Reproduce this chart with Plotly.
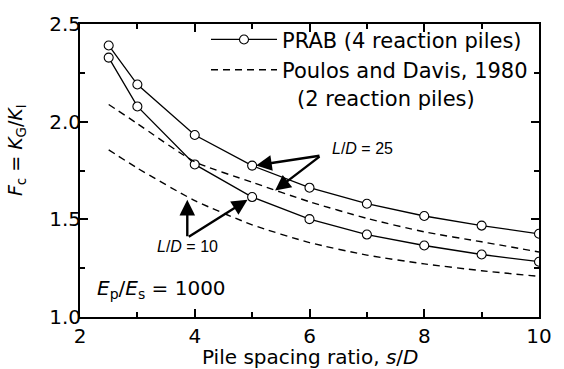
import plotly.graph_objects as go

# ---- data ----
s_prab = [2.5, 3, 4, 5, 6, 7, 8, 9, 10]
prab_ld25 = [2.39, 2.19, 1.932, 1.775, 1.662, 1.580, 1.517, 1.468, 1.426]
prab_ld10 = [2.328, 2.078, 1.781, 1.614, 1.501, 1.422, 1.366, 1.320, 1.283]

s_pd = [2.5, 3, 4, 5, 6, 7, 8, 9, 10]
pd_ld25 = [2.088, 1.99, 1.795, 1.69, 1.59, 1.505, 1.436, 1.385, 1.333]
pd_ld10 = [1.856, 1.762, 1.596, 1.472, 1.381, 1.317, 1.272, 1.237, 1.208]

x_ticks = [2, 4, 6, 8, 10]
y_ticks = [1.0, 1.5, 2.0, 2.5]
y_tick_text = ["1.0", "1.5", "2.0", "2.5"]

FONT = "DejaVu Sans"
BLACK = "#000000"

fig = go.Figure()

marker = dict(symbol="circle", size=9, color="white", line=dict(color=BLACK, width=1.1))

fig.add_trace(go.Scatter(x=s_prab, y=prab_ld25, mode="lines+markers",
                         line=dict(color=BLACK, width=1.3), marker=marker,
                         name="PRAB (4 reaction piles)", showlegend=True))
fig.add_trace(go.Scatter(x=s_prab, y=prab_ld10, mode="lines+markers",
                         line=dict(color=BLACK, width=1.3), marker=marker,
                         showlegend=False))
fig.add_trace(go.Scatter(x=s_pd, y=pd_ld25, mode="lines",
                         line=dict(color=BLACK, width=1.4, dash="7px,5px", shape="spline", smoothing=0.6),
                         name="Poulos and Davis, 1980", showlegend=True))
fig.add_trace(go.Scatter(x=s_pd, y=pd_ld10, mode="lines",
                         line=dict(color=BLACK, width=1.4, dash="7px,5px", shape="spline", smoothing=0.6),
                         showlegend=False))

arrow_common = dict(xref="x", yref="y", axref="x", ayref="y", text="",
                    showarrow=True, arrowhead=2, arrowsize=1.3, arrowwidth=2.4,
                    arrowcolor=BLACK)
annotations = [
    dict(x=5.07, y=1.776, ax=6.2, ay=1.827, **arrow_common),
    dict(x=5.40, y=1.647, ax=6.2, ay=1.827, **arrow_common),
    dict(x=3.87, y=1.60, ax=3.87, ay=1.406, **arrow_common),
    dict(x=4.92, y=1.60, ax=3.87, ay=1.406, **arrow_common),
    dict(x=6.36, y=1.865, xref="x", yref="y", text="<i>L</i>/<i>D</i> = 25",
         showarrow=False, xanchor="left", yanchor="middle",
         font=dict(family="Liberation Sans", size=16, color=BLACK)),
    dict(x=3.87, y=1.36, xref="x", yref="y", text="<i>L</i>/<i>D</i> = 10",
         showarrow=False, xanchor="center", yanchor="middle",
         font=dict(family="Liberation Sans", size=16, color=BLACK)),
    dict(x=2.27, y=1.145, xref="x", yref="y",
         text="<i>E</i><sub>p</sub>/<i>E</i><sub>s</sub> = 1000",
         showarrow=False, xanchor="left", yanchor="middle",
         font=dict(family=FONT, size=20, color=BLACK)),
    dict(x=0.468, y=0.745, xref="paper", yref="paper",
         text="(2 reaction piles)",
         showarrow=False, xanchor="left", yanchor="middle",
         font=dict(family=FONT, size=21, color=BLACK)),
    dict(x=-0.137, y=0.57, xref="paper", yref="paper", textangle=-90,
         text="<i>F</i><sub>c</sub> = <i>K</i><sub>G</sub>/<i>K</i><sub>I</sub>",
         showarrow=False, xanchor="center", yanchor="middle",
         font=dict(family=FONT, size=19, color=BLACK)),
    dict(x=0.5, y=-0.136, xref="paper", yref="paper",
         text="Pile spacing ratio, <i>s</i>/<i>D</i>",
         showarrow=False, xanchor="center", yanchor="middle",
         font=dict(family=FONT, size=20, color=BLACK)),
]

axis_common = dict(showline=True, linecolor=BLACK, linewidth=2, mirror="ticks",
                   ticks="inside", ticklen=8, tickwidth=1.5, tickcolor=BLACK,
                   showgrid=False, zeroline=False,
                   tickfont=dict(family=FONT, size=20, color=BLACK))

fig.update_xaxes(range=[2, 10], tickmode="array", tickvals=x_ticks,
                 minor=dict(ticks="inside", ticklen=5, tickwidth=1.5, tickcolor=BLACK, dtick=1, showgrid=False),
                 **axis_common)
fig.update_yaxes(range=[1.0, 2.5], tickmode="array", tickvals=y_ticks, ticktext=y_tick_text,
                 ticklabelstandoff=-7,
                 minor=dict(ticks="inside", ticklen=5, tickwidth=1.5, tickcolor=BLACK, dtick=0.25, showgrid=False),
                 **axis_common)

fig.update_layout(
    width=564, height=369,
    margin=dict(l=80, r=14, t=14, b=52),
    paper_bgcolor="white", plot_bgcolor="white",
    showlegend=True,
    legend=dict(x=0.2745, y=1.016, xanchor="left", yanchor="top",
                bgcolor="rgba(0,0,0,0)", borderwidth=0,
                font=dict(family=FONT, size=21, color=BLACK),
                itemwidth=66, tracegroupgap=0),
    annotations=annotations,
)

fig.write_html("out.html")
